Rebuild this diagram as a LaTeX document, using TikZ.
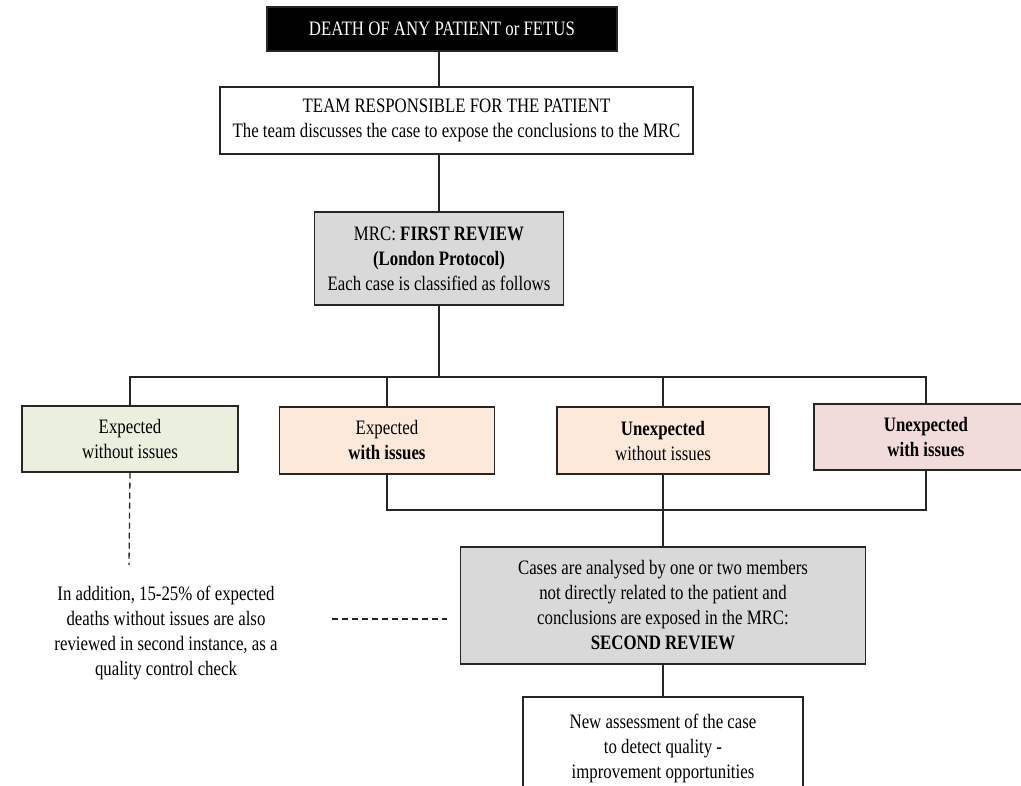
\documentclass[tikz,border=0pt]{standalone}
\usepackage{fontspec}
\setmainfont{Liberation Serif}[FakeStretch=0.82]
\usepackage{tikz}
\usetikzlibrary{positioning}

\definecolor{reviewgray}{HTML}{D9D9D9}
\definecolor{okgreen}{HTML}{EBF0DE}
\definecolor{issuepeach}{HTML}{FDE9DA}
\definecolor{issuepink}{HTML}{F2DCDB}

\begin{document}
\begin{tikzpicture}[x=1pt, y=-1pt,
		box/.style={draw=black!85, line width=1.3pt, align=center, inner sep=0pt, font=\fontsize{20.5}{25}\selectfont},
		link/.style={draw=black!85, line width=1.3pt},
		dashlink/.style={link, dash pattern=on 6pt off 4pt}]
		\useasboundingbox (0,0) rectangle (1021,786);
		\clip (0,0) rectangle (1021,786);
		
		% Start
		\node[box, fill=black, text=white, minimum width=350, minimum height=44] (death) at (442,29) {DEATH OF ANY PATIENT or FETUS};
		
		% Team and first review
		\node[box, fill=white, minimum width=473, minimum height=67] (team) at (456.5,120.5) {TEAM RESPONSIBLE FOR THE PATIENT\\The team discusses the case to expose the conclusions to the MRC};
		\node[box, fill=reviewgray, minimum width=249, minimum height=93] (first) at (439,258.5) {MRC: \textbf{FIRST REVIEW}\\\textbf{(London Protocol)}\\Each case is classified as follows};
		
		% Classification
		\node[box, fill=okgreen, minimum width=216, minimum height=66] (expok) at (130,439) {Expected\\without issues};
		\node[box, fill=issuepeach, minimum width=215, minimum height=67] (expiss) at (387,440.5) {Expected\\\textbf{with issues}};
		\node[box, fill=issuepeach, minimum width=212, minimum height=67] (unexok) at (663,440.5) {\textbf{Unexpected}\\without issues};
		\node[box, fill=issuepink, minimum width=224, minimum height=66, font=\fontsize{20.5}{25}\selectfont\bfseries] (unexiss) at (926,437) {Unexpected\\with issues};
		
		% Second review
		\node[box, fill=reviewgray, minimum width=405, minimum height=117] (second) at (663,605.5) {Cases are analysed by one or two members\\not directly related to the patient and\\conclusions are exposed in the MRC:\\\textbf{SECOND REVIEW}};
		\node[box, fill=white, minimum width=280, minimum height=103] (assess) at (663,748.5) {New assessment of the case\\to detect quality -\\improvement opportunities};
		\node[align=center, inner sep=0pt, font=\fontsize{20.5}{25}\selectfont] (extra) at (166,632.5) {In addition, 15-25\% of expected\\deaths without issues are also\\reviewed in second instance, as a\\quality control check};
		
		% Connect
		\coordinate (split) at (439,377);
		\coordinate (merge) at (663,510);
		\coordinate (dashend) at (129,565);
		\coordinate (dashleft) at (332,619);
		\draw[link] (death.south -| first.north) -- (team.north -| first.north);
		\draw[link] (team.south -| first.north) -- (first);
		\draw[link] (first) -- (split);
		\draw[link] (expok.north) |- (split) -| (unexiss.north);
		\draw[link] (expiss.north) -- (expiss.north |- split);
		\draw[link] (unexok.north) -- (unexok.north |- split);
		\draw[link] (expiss.south) |- (merge) -| (unexiss.south);
		\draw[link] (unexok.south) -- (second.north);
		\draw[link] (second) -- (assess);
		\draw[dashlink] (expok.south) -- (dashend);
		\draw[dashlink, shorten >=13pt] (dashleft) -- (dashleft -| second.west);
	\end{tikzpicture}
\end{document}
